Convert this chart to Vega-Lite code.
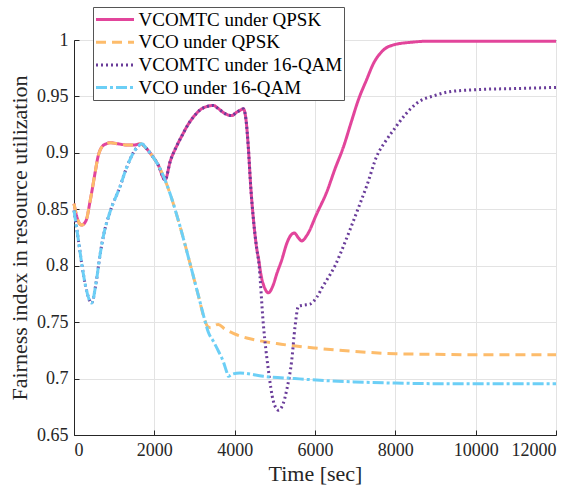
{
"$schema": "https://vega.github.io/schema/vega-lite/v6.json",
"width": 482, "height": 395,
"autosize": "none",
"padding": {"left": 74, "top": 40, "right": 23, "bottom": 52},
"config": {
 "font": "Liberation Serif",
 "view": {"stroke": "#262626", "strokeWidth": 1},
 "axis": {"labelFont": "Liberation Serif", "titleFont": "Liberation Serif", "labelFontSize": 18, "titleFontSize": 22, "titleFontWeight": "normal", "labelColor": "#262626", "titleColor": "#262626", "domainColor": "#262626", "tickColor": "#262626", "gridColor": "#e3e3e3", "tickSize": -5, "labelPadding": 11},
 "legend": {"orient": "none", "legendX": 19, "legendY": -33, "symbolType": "M-1,0H3", "symbolSize": 361, "symbolStrokeWidth": 3, "labelFont": "Liberation Serif", "labelFontSize": 19, "labelLimit": 0, "labelColor": "#000000", "fillColor": "#ffffff", "strokeColor": "#555555", "padding": 1.5, "rowPadding": 1.7, "labelOffset": 22}
},
"data": {"values": [
{"s":"VCOMTC under QPSK","t":0,"v":0.855},{"s":"VCOMTC under QPSK","t":100,"v":0.840},{"s":"VCOMTC under QPSK","t":190,"v":0.836},{"s":"VCOMTC under QPSK","t":300,"v":0.840},{"s":"VCOMTC under QPSK","t":400,"v":0.857},{"s":"VCOMTC under QPSK","t":523,"v":0.882},{"s":"VCOMTC under QPSK","t":600,"v":0.897},{"s":"VCOMTC under QPSK","t":689,"v":0.905},{"s":"VCOMTC under QPSK","t":800,"v":0.908},{"s":"VCOMTC under QPSK","t":900,"v":0.909},{"s":"VCOMTC under QPSK","t":1100,"v":0.908},{"s":"VCOMTC under QPSK","t":1311,"v":0.907},{"s":"VCOMTC under QPSK","t":1500,"v":0.907},{"s":"VCOMTC under QPSK","t":1650,"v":0.908},{"s":"VCOMTC under QPSK","t":1800,"v":0.904},{"s":"VCOMTC under QPSK","t":1934,"v":0.898},{"s":"VCOMTC under QPSK","t":2100,"v":0.889},{"s":"VCOMTC under QPSK","t":2266,"v":0.876},{"s":"VCOMTC under QPSK","t":2400,"v":0.893},{"s":"VCOMTC under QPSK","t":2556,"v":0.906},{"s":"VCOMTC under QPSK","t":2700,"v":0.916},{"s":"VCOMTC under QPSK","t":2805,"v":0.923},{"s":"VCOMTC under QPSK","t":3000,"v":0.933},{"s":"VCOMTC under QPSK","t":3137,"v":0.938},{"s":"VCOMTC under QPSK","t":3300,"v":0.941},{"s":"VCOMTC under QPSK","t":3469,"v":0.942},{"s":"VCOMTC under QPSK","t":3600,"v":0.939},{"s":"VCOMTC under QPSK","t":3750,"v":0.935},{"s":"VCOMTC under QPSK","t":3926,"v":0.933},{"s":"VCOMTC under QPSK","t":4050,"v":0.936},{"s":"VCOMTC under QPSK","t":4150,"v":0.938},{"s":"VCOMTC under QPSK","t":4216,"v":0.939},{"s":"VCOMTC under QPSK","t":4280,"v":0.930},{"s":"VCOMTC under QPSK","t":4340,"v":0.905},{"s":"VCOMTC under QPSK","t":4400,"v":0.870},{"s":"VCOMTC under QPSK","t":4470,"v":0.840},{"s":"VCOMTC under QPSK","t":4550,"v":0.815},{"s":"VCOMTC under QPSK","t":4600,"v":0.805},{"s":"VCOMTC under QPSK","t":4650,"v":0.793},{"s":"VCOMTC under QPSK","t":4750,"v":0.780},{"s":"VCOMTC under QPSK","t":4838,"v":0.776},{"s":"VCOMTC under QPSK","t":4950,"v":0.782},{"s":"VCOMTC under QPSK","t":5050,"v":0.793},{"s":"VCOMTC under QPSK","t":5171,"v":0.805},{"s":"VCOMTC under QPSK","t":5300,"v":0.820},{"s":"VCOMTC under QPSK","t":5378,"v":0.826},{"s":"VCOMTC under QPSK","t":5486,"v":0.829},{"s":"VCOMTC under QPSK","t":5580,"v":0.825},{"s":"VCOMTC under QPSK","t":5670,"v":0.822},{"s":"VCOMTC under QPSK","t":5800,"v":0.827},{"s":"VCOMTC under QPSK","t":6043,"v":0.846},{"s":"VCOMTC under QPSK","t":6300,"v":0.866},{"s":"VCOMTC under QPSK","t":6500,"v":0.886},{"s":"VCOMTC under QPSK","t":6706,"v":0.905},{"s":"VCOMTC under QPSK","t":6900,"v":0.927},{"s":"VCOMTC under QPSK","t":7080,"v":0.947},{"s":"VCOMTC under QPSK","t":7287,"v":0.965},{"s":"VCOMTC under QPSK","t":7453,"v":0.979},{"s":"VCOMTC under QPSK","t":7700,"v":0.991},{"s":"VCOMTC under QPSK","t":7993,"v":0.996},{"s":"VCOMTC under QPSK","t":8400,"v":0.998},{"s":"VCOMTC under QPSK","t":8865,"v":0.999},{"s":"VCOMTC under QPSK","t":10000,"v":0.999},{"s":"VCOMTC under QPSK","t":12000,"v":0.999},
{"s":"VCO under QPSK","t":0,"v":0.855},{"s":"VCO under QPSK","t":100,"v":0.840},{"s":"VCO under QPSK","t":190,"v":0.836},{"s":"VCO under QPSK","t":300,"v":0.840},{"s":"VCO under QPSK","t":400,"v":0.857},{"s":"VCO under QPSK","t":523,"v":0.882},{"s":"VCO under QPSK","t":600,"v":0.897},{"s":"VCO under QPSK","t":689,"v":0.905},{"s":"VCO under QPSK","t":800,"v":0.908},{"s":"VCO under QPSK","t":900,"v":0.909},{"s":"VCO under QPSK","t":1100,"v":0.908},{"s":"VCO under QPSK","t":1311,"v":0.907},{"s":"VCO under QPSK","t":1500,"v":0.907},{"s":"VCO under QPSK","t":1650,"v":0.908},{"s":"VCO under QPSK","t":1800,"v":0.904},{"s":"VCO under QPSK","t":1934,"v":0.898},{"s":"VCO under QPSK","t":2100,"v":0.889},{"s":"VCO under QPSK","t":2266,"v":0.876},{"s":"VCO under QPSK","t":2390,"v":0.864},{"s":"VCO under QPSK","t":2639,"v":0.835},{"s":"VCO under QPSK","t":2888,"v":0.802},{"s":"VCO under QPSK","t":3100,"v":0.773},{"s":"VCO under QPSK","t":3262,"v":0.751},{"s":"VCO under QPSK","t":3330,"v":0.746},{"s":"VCO under QPSK","t":3400,"v":0.745},{"s":"VCO under QPSK","t":3500,"v":0.747},{"s":"VCO under QPSK","t":3593,"v":0.748},{"s":"VCO under QPSK","t":3750,"v":0.744},{"s":"VCO under QPSK","t":3967,"v":0.740},{"s":"VCO under QPSK","t":4300,"v":0.736},{"s":"VCO under QPSK","t":4548,"v":0.734},{"s":"VCO under QPSK","t":5047,"v":0.731},{"s":"VCO under QPSK","t":6000,"v":0.727},{"s":"VCO under QPSK","t":7000,"v":0.724},{"s":"VCO under QPSK","t":8000,"v":0.722},{"s":"VCO under QPSK","t":9000,"v":0.7215},{"s":"VCO under QPSK","t":10000,"v":0.721},{"s":"VCO under QPSK","t":12000,"v":0.721},
{"s":"VCOMTC under 16-QAM","t":0,"v":0.849},{"s":"VCOMTC under 16-QAM","t":108,"v":0.823},{"s":"VCOMTC under 16-QAM","t":200,"v":0.800},{"s":"VCOMTC under 16-QAM","t":300,"v":0.780},{"s":"VCOMTC under 16-QAM","t":440,"v":0.767},{"s":"VCOMTC under 16-QAM","t":550,"v":0.785},{"s":"VCOMTC under 16-QAM","t":650,"v":0.810},{"s":"VCOMTC under 16-QAM","t":730,"v":0.826},{"s":"VCOMTC under 16-QAM","t":900,"v":0.848},{"s":"VCOMTC under 16-QAM","t":1145,"v":0.870},{"s":"VCOMTC under 16-QAM","t":1300,"v":0.886},{"s":"VCOMTC under 16-QAM","t":1477,"v":0.900},{"s":"VCOMTC under 16-QAM","t":1600,"v":0.906},{"s":"VCOMTC under 16-QAM","t":1685,"v":0.908},{"s":"VCOMTC under 16-QAM","t":1800,"v":0.904},{"s":"VCOMTC under 16-QAM","t":1934,"v":0.898},{"s":"VCOMTC under 16-QAM","t":2100,"v":0.889},{"s":"VCOMTC under 16-QAM","t":2266,"v":0.876},{"s":"VCOMTC under 16-QAM","t":2400,"v":0.893},{"s":"VCOMTC under 16-QAM","t":2556,"v":0.906},{"s":"VCOMTC under 16-QAM","t":2700,"v":0.916},{"s":"VCOMTC under 16-QAM","t":2805,"v":0.923},{"s":"VCOMTC under 16-QAM","t":3000,"v":0.933},{"s":"VCOMTC under 16-QAM","t":3137,"v":0.938},{"s":"VCOMTC under 16-QAM","t":3300,"v":0.941},{"s":"VCOMTC under 16-QAM","t":3469,"v":0.942},{"s":"VCOMTC under 16-QAM","t":3600,"v":0.939},{"s":"VCOMTC under 16-QAM","t":3750,"v":0.935},{"s":"VCOMTC under 16-QAM","t":3926,"v":0.933},{"s":"VCOMTC under 16-QAM","t":4050,"v":0.936},{"s":"VCOMTC under 16-QAM","t":4150,"v":0.938},{"s":"VCOMTC under 16-QAM","t":4216,"v":0.939},{"s":"VCOMTC under 16-QAM","t":4280,"v":0.930},{"s":"VCOMTC under 16-QAM","t":4340,"v":0.905},{"s":"VCOMTC under 16-QAM","t":4400,"v":0.870},{"s":"VCOMTC under 16-QAM","t":4470,"v":0.840},{"s":"VCOMTC under 16-QAM","t":4550,"v":0.815},{"s":"VCOMTC under 16-QAM","t":4600,"v":0.803},{"s":"VCOMTC under 16-QAM","t":4714,"v":0.748},{"s":"VCOMTC under 16-QAM","t":4838,"v":0.708},{"s":"VCOMTC under 16-QAM","t":4963,"v":0.680},{"s":"VCOMTC under 16-QAM","t":5088,"v":0.672},{"s":"VCOMTC under 16-QAM","t":5200,"v":0.677},{"s":"VCOMTC under 16-QAM","t":5296,"v":0.690},{"s":"VCOMTC under 16-QAM","t":5420,"v":0.716},{"s":"VCOMTC under 16-QAM","t":5503,"v":0.746},{"s":"VCOMTC under 16-QAM","t":5586,"v":0.764},{"s":"VCOMTC under 16-QAM","t":5700,"v":0.765},{"s":"VCOMTC under 16-QAM","t":5876,"v":0.766},{"s":"VCOMTC under 16-QAM","t":6043,"v":0.772},{"s":"VCOMTC under 16-QAM","t":6200,"v":0.782},{"s":"VCOMTC under 16-QAM","t":6374,"v":0.792},{"s":"VCOMTC under 16-QAM","t":6500,"v":0.800},{"s":"VCOMTC under 16-QAM","t":6623,"v":0.810},{"s":"VCOMTC under 16-QAM","t":6872,"v":0.832},{"s":"VCOMTC under 16-QAM","t":7121,"v":0.855},{"s":"VCOMTC under 16-QAM","t":7300,"v":0.872},{"s":"VCOMTC under 16-QAM","t":7537,"v":0.897},{"s":"VCOMTC under 16-QAM","t":7750,"v":0.910},{"s":"VCOMTC under 16-QAM","t":7951,"v":0.920},{"s":"VCOMTC under 16-QAM","t":8250,"v":0.934},{"s":"VCOMTC under 16-QAM","t":8533,"v":0.944},{"s":"VCOMTC under 16-QAM","t":9000,"v":0.951},{"s":"VCOMTC under 16-QAM","t":9320,"v":0.954},{"s":"VCOMTC under 16-QAM","t":10000,"v":0.956},{"s":"VCOMTC under 16-QAM","t":11000,"v":0.957},{"s":"VCOMTC under 16-QAM","t":12000,"v":0.958},
{"s":"VCO under 16-QAM","t":0,"v":0.849},{"s":"VCO under 16-QAM","t":108,"v":0.823},{"s":"VCO under 16-QAM","t":200,"v":0.800},{"s":"VCO under 16-QAM","t":300,"v":0.780},{"s":"VCO under 16-QAM","t":440,"v":0.767},{"s":"VCO under 16-QAM","t":550,"v":0.785},{"s":"VCO under 16-QAM","t":650,"v":0.810},{"s":"VCO under 16-QAM","t":730,"v":0.826},{"s":"VCO under 16-QAM","t":900,"v":0.848},{"s":"VCO under 16-QAM","t":1145,"v":0.870},{"s":"VCO under 16-QAM","t":1300,"v":0.886},{"s":"VCO under 16-QAM","t":1477,"v":0.900},{"s":"VCO under 16-QAM","t":1600,"v":0.906},{"s":"VCO under 16-QAM","t":1685,"v":0.908},{"s":"VCO under 16-QAM","t":1800,"v":0.904},{"s":"VCO under 16-QAM","t":1934,"v":0.898},{"s":"VCO under 16-QAM","t":2100,"v":0.889},{"s":"VCO under 16-QAM","t":2266,"v":0.876},{"s":"VCO under 16-QAM","t":2390,"v":0.864},{"s":"VCO under 16-QAM","t":2639,"v":0.835},{"s":"VCO under 16-QAM","t":2888,"v":0.802},{"s":"VCO under 16-QAM","t":3100,"v":0.773},{"s":"VCO under 16-QAM","t":3262,"v":0.751},{"s":"VCO under 16-QAM","t":3345,"v":0.741},{"s":"VCO under 16-QAM","t":3469,"v":0.733},{"s":"VCO under 16-QAM","t":3600,"v":0.724},{"s":"VCO under 16-QAM","t":3718,"v":0.715},{"s":"VCO under 16-QAM","t":3800,"v":0.706},{"s":"VCO under 16-QAM","t":3843,"v":0.702},{"s":"VCO under 16-QAM","t":3950,"v":0.704},{"s":"VCO under 16-QAM","t":4133,"v":0.705},{"s":"VCO under 16-QAM","t":4714,"v":0.702},{"s":"VCO under 16-QAM","t":5500,"v":0.700},{"s":"VCO under 16-QAM","t":6374,"v":0.698},{"s":"VCO under 16-QAM","t":7000,"v":0.697},{"s":"VCO under 16-QAM","t":8000,"v":0.696},{"s":"VCO under 16-QAM","t":9000,"v":0.6955},{"s":"VCO under 16-QAM","t":12000,"v":0.6955}
]},
"encoding": {
 "x": {"field": "t", "type": "quantitative", "scale": {"domain": [0, 12000], "nice": false}, "axis": {"title": "Time [sec]", "values": [0, 2000, 4000, 6000, 8000, 10000, 12000], "format": "d", "titlePadding": 4}},
 "y": {"field": "v", "type": "quantitative", "scale": {"domain": [0.65, 1], "nice": false, "zero": false}, "axis": {"title": "Fairness index in resource utilization", "values": [0.65, 0.7, 0.75, 0.8, 0.85, 0.9, 0.95, 1], "format": ".2~f", "titlePadding": 5}},
 "color": {"field": "s", "type": "nominal", "title": null, "scale": {"domain": ["VCOMTC under QPSK", "VCO under QPSK", "VCOMTC under 16-QAM", "VCO under 16-QAM"], "range": ["#e2459b", "#fdbc6b", "#6a3d9a", "#6ccff6"]}},
 "strokeDash": {"field": "s", "type": "nominal", "title": null, "scale": {"domain": ["VCOMTC under QPSK", "VCO under QPSK", "VCOMTC under 16-QAM", "VCO under 16-QAM"], "range": [[1, 0], [10, 6], [2, 3], [11, 3, 3, 3]]}}
},
"layer": [
 {"transform": [{"filter": "datum.s === 'VCOMTC under QPSK'"}], "mark": {"type": "line", "strokeWidth": 3, "interpolate": "monotone"}},
 {"transform": [{"filter": "datum.s === 'VCO under QPSK'"}], "mark": {"type": "line", "strokeWidth": 3, "interpolate": "monotone"}},
 {"transform": [{"filter": "datum.s === 'VCOMTC under 16-QAM'"}], "mark": {"type": "line", "strokeWidth": 3, "interpolate": "monotone"}},
 {"transform": [{"filter": "datum.s === 'VCO under 16-QAM'"}], "mark": {"type": "line", "strokeWidth": 3, "interpolate": "monotone"}}
]
}
